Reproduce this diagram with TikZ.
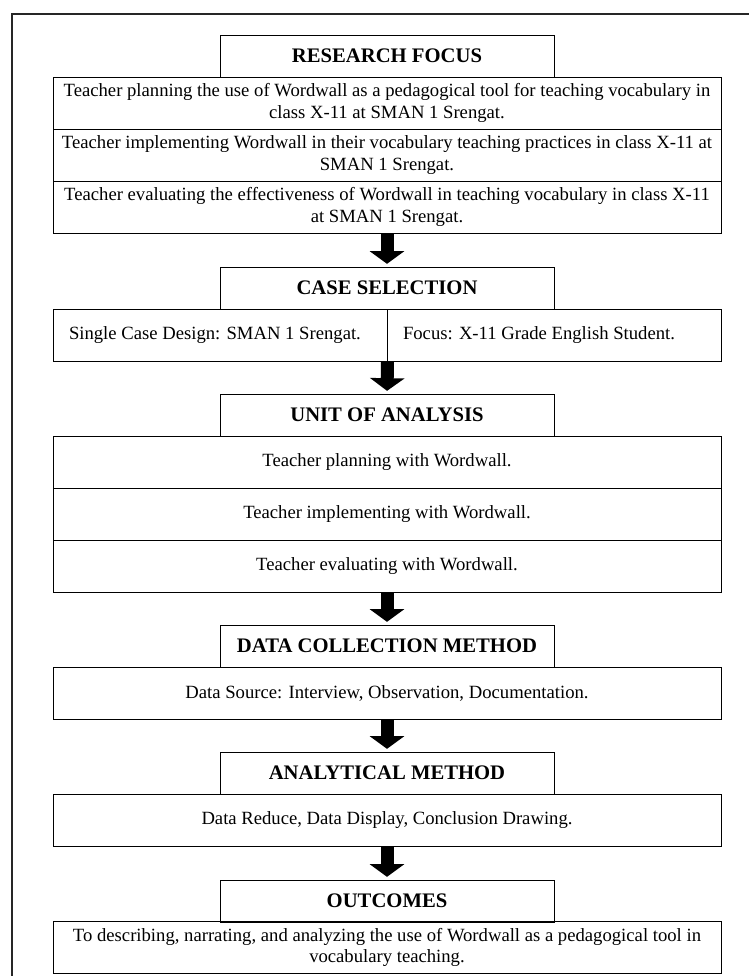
\documentclass[tikz,border=0pt]{standalone}
\usepackage{fontspec}
\setmainfont{Liberation Serif}
\usetikzlibrary{arrows.meta}

\begin{document}
\begin{tikzpicture}[x=0.75pt,y=-0.75pt,
  head/.style={draw,line width=0.75pt,minimum width=250.5pt,minimum height=31.5pt,inner sep=0pt,font=\fontsize{15.5}{18}\selectfont\bfseries},
  row/.style={draw,line width=0.75pt,minimum width=501pt,minimum height=39pt,inner sep=0pt,align=center,font=\fontsize{14}{16}\selectfont},
  cell/.style={draw,line width=0.75pt,minimum width=250.5pt,minimum height=39pt,inner xsep=12pt,inner ysep=0pt,text width=226.5pt,align=flush left,font=\fontsize{14}{16}\selectfont},
  bigarrow/.style={line width=9.75pt,-{Triangle[width=25.5pt,length=9.5pt]},shorten >=2pt}]
			\useasboundingbox (0,0) rectangle (749,976);
			\draw[line width=1.5pt,black!85] (749,14) -- (11.5,14) -- (11.5,976);
			\node[head] (rf) at (387,56) {RESEARCH FOCUS};
			\node[row] (rf1) at (387,103) {Teacher planning the use of Wordwall as a pedagogical tool for teaching vocabulary in\\class X-11 at SMAN 1 Srengat.};
			\node[row] (rf2) at (387,155) {Teacher implementing Wordwall in their vocabulary teaching practices in class X-11 at\\SMAN 1 Srengat.};
			\node[row] (rf3) at (387,207) {Teacher evaluating the effectiveness of Wordwall in teaching vocabulary in class X-11\\at SMAN 1 Srengat.};
			\node[head] (cs) at (387,288) {CASE SELECTION};
			\node[cell] (csl) at (220,335) {Single Case Design: SMAN 1 Srengat.};
			\node[cell] (csr) at (554,335) {Focus: X-11 Grade English Student.};
			\node[head] (ua) at (387,415) {UNIT OF ANALYSIS};
			\node[row] (ua1) at (387,462) {Teacher planning with Wordwall.};
			\node[row] (ua2) at (387,514) {Teacher implementing with Wordwall.};
			\node[row] (ua3) at (387,566) {Teacher evaluating with Wordwall.};
			\node[head] (dc) at (387,646) {DATA COLLECTION METHOD};
			\node[row] (dc1) at (387,693) {Data Source: Interview, Observation, Documentation.};
			\node[head] (am) at (387,773) {ANALYTICAL METHOD};
			\node[row] (am1) at (387,820) {Data Reduce, Data Display, Conclusion Drawing.};
			\node[head] (oc) at (387,901) {OUTCOMES};
			\node[row] (oc1) at (387,947.5) {To describing, narrating, and analyzing the use of Wordwall as a pedagogical tool in\\vocabulary teaching.};
			\foreach \a/\b in {rf3.south/cs,csl.south east/ua,ua3.south/dc,dc1.south/am,am1.south/oc}
				\draw[bigarrow] (\a) -- (\b.north);
		\end{tikzpicture}
\end{document}
